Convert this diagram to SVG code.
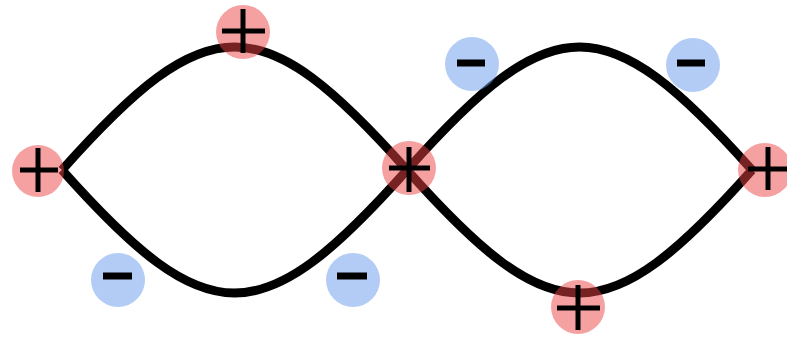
<svg xmlns="http://www.w3.org/2000/svg" width="787" height="339" viewBox="0 0 787 339">
<style>
.curve{fill:none;stroke:#000;stroke-width:9;stroke-linejoin:miter}
.pos circle{fill:#eb4444;fill-opacity:0.5}
.neg circle{fill:#6699ee;fill-opacity:0.5}
.sign{stroke:#000;fill:none}
.pos .sign{stroke-width:5}
.neg .sign{stroke-width:7}
</style>
<rect width="787" height="339" fill="#fff"/>
<g id="connectors">
<path class="curve" d="M62,170 C208,6 261,6 407,170 C553,6 606,6 752,170"/>
<path class="curve" d="M62,170 C208,334 261,334 407,170 C553,334 606,334 752,170"/>
</g>
<g id="p1" class="pos"><circle cx="38" cy="171" r="26"/><path class="sign" d="M20,170H58M38,148V192"/></g>
<g id="p2" class="pos"><circle cx="243" cy="32" r="27"/><path class="sign" d="M222,31H265M243,9V53"/></g>
<g id="p3" class="pos"><circle cx="409" cy="168" r="27"/><path class="sign" d="M389,168H430M409,147V192"/></g>
<g id="p4" class="pos"><circle cx="765" cy="170" r="27"/><path class="sign" d="M748,169H790M768,147V190"/></g>
<g id="p5" class="pos"><circle cx="578" cy="307" r="27"/><path class="sign" d="M557,308H600M578,285V330"/></g>
<g id="n1" class="neg"><circle cx="118" cy="280" r="27"/><path class="sign" d="M103,276H132"/></g>
<g id="n2" class="neg"><circle cx="353" cy="280" r="27"/><path class="sign" d="M337,276H367"/></g>
<g id="n3" class="neg"><circle cx="472" cy="64" r="27"/><path class="sign" d="M457,63H485"/></g>
<g id="n4" class="neg"><circle cx="693" cy="65" r="27"/><path class="sign" d="M677,63H705"/></g>
</svg>
